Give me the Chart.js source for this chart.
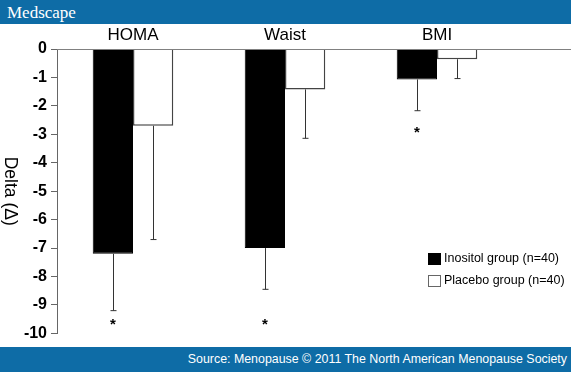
<!DOCTYPE html>
<html>
<head>
<meta charset="utf-8">
<script src="https://cdn.jsdelivr.net/npm/chart.js@4"></script>
<style>
  body { margin: 0; width: 571px; height: 372px; overflow: hidden; background: #fff; font-family: "Liberation Sans", Arial, sans-serif; }
  .top { height: 24px; background: #0e6ca6; color: #fff; font-family: "Liberation Serif", serif; font-size: 17px; line-height: 26px; padding-left: 7px; }
  .wrap { position: relative; width: 571px; height: 323px; }
  canvas { display: block; }
  .bottom { height: 25px; background: #0e6ca6; color: #fff; font-size: 12.4px; line-height: 25px; text-align: right; padding-right: 4px; }
</style>
</head>
<body>
<div class="top">Medscape</div>
<div class="wrap"><canvas id="chart" width="571" height="323"></canvas></div>
<div class="bottom">Source: Menopause © 2011 The North American Menopause Society</div>
<script>
// data
const categories = ['HOMA', 'Waist', 'BMI'];
const seriesLabels = ['Inositol group (n=40)', 'Placebo group (n=40)'];
const inositolValues = [-7.2, -7.0, -1.07];
const placeboValues = [-2.7, -1.42, -0.36];
const inositolSD = [2.0, 1.45, 1.1];
const placeboSD = [4.0, 1.72, 0.68];
const starValues = [-9.6, -9.6, -2.85]; // '*' under inositol bars
const yMin = -10, yMax = 0;

const FONT = '"Liberation Sans", Arial, sans-serif';

// ========== 에러바, 별표, 범례, 축 제목 ==========
const extras = {
  id: 'extras',
  afterDatasetsDraw(chart) {
    const { ctx, chartArea, scales } = chart;
    const y = scales.y;
    const sds = [inositolSD, placeboSD];

    ctx.save();
    // zero line across the full width
    ctx.strokeStyle = '#808080';
    ctx.lineWidth = 1;
    ctx.beginPath();
    ctx.moveTo(chartArea.left, Math.round(y.getPixelForValue(0)) + 0.5);
    ctx.lineTo(chart.width, Math.round(y.getPixelForValue(0)) + 0.5);
    ctx.stroke();

    // error bars (downward only)
    ctx.strokeStyle = '#333';
    chart.data.datasets.forEach((ds, i) => {
      chart.getDatasetMeta(i).data.forEach((bar, j) => {
        const x = Math.round(bar.x) + 0.5;
        const y1 = y.getPixelForValue(ds.data[j] - sds[i][j]);
        ctx.beginPath();
        ctx.moveTo(x, bar.y);
        ctx.lineTo(x, y1);
        ctx.moveTo(x - 3, y1);
        ctx.lineTo(x + 3, y1);
        ctx.stroke();
      });
    });

    // asterisks
    ctx.fillStyle = '#000';
    ctx.font = 'bold 15px ' + FONT;
    ctx.textAlign = 'center';
    ctx.textBaseline = 'middle';
    chart.getDatasetMeta(0).data.forEach((bar, j) => {
      ctx.fillText('*', bar.x, y.getPixelForValue(starValues[j]) + 3);
    });

    // y title, rotated clockwise
    ctx.save();
    ctx.translate(10, (chartArea.top + chartArea.bottom) / 2);
    ctx.rotate(Math.PI / 2);
    ctx.font = '17.5px ' + FONT;
    ctx.fillText('Delta (\u0394)', 0, 0);
    ctx.restore();

    // legend
    ctx.font = '12.5px ' + FONT;
    ctx.textAlign = 'left';
    chart.data.datasets.forEach((ds, i) => {
      const ly = 235 + i * 22;
      ctx.fillStyle = ds.backgroundColor;
      ctx.fillRect(428.5, ly - 5.5, 12, 11);
      ctx.strokeStyle = i === 0 ? '#000' : '#666';
      ctx.strokeRect(428.5, ly - 5.5, 12, 11);
      ctx.fillStyle = '#000';
      ctx.fillText(ds.label, 444, ly);
    });
    ctx.restore();
  }
};

new Chart(document.getElementById('chart'), {
  type: 'bar',
  data: {
    labels: categories,
    datasets: [
      {
        label: seriesLabels[0],
        data: inositolValues,
        backgroundColor: '#000',
        borderColor: '#000',
        borderWidth: 1
      },
      {
        label: seriesLabels[1],
        data: placeboValues,
        backgroundColor: '#fff',
        borderColor: '#444',
        borderWidth: 1.5
      }
    ]
  },
  options: {
    responsive: false,
    animation: false,
    devicePixelRatio: 1,
    layout: { autoPadding: false, padding: { left: 0, right: 58, top: 0, bottom: 3.8 } },
    datasets: { bar: { categoryPercentage: 0.53, barPercentage: 1.0 } },
    plugins: { legend: { display: false }, tooltip: { enabled: false } },
    scales: {
      x: {
        position: 'top',
        grid: { display: false, drawTicks: false },
        border: { display: false },
        ticks: { color: '#000', font: { family: FONT, size: 17 }, padding: 3, maxRotation: 0 },
        afterFit(scale) { scale.height = 25; }
      },
      y: {
        min: yMin,
        max: yMax,
        grid: { drawOnChartArea: false, tickLength: 6, color: '#666' },
        border: { color: '#666', width: 1 },
        ticks: { stepSize: 1, color: '#000', font: { family: FONT, size: 16, weight: 'bold' }, padding: 4 },
        afterFit(scale) { scale.width = 57; }
      }
    }
  },
  plugins: [extras]
});
</script>
</body>
</html>
